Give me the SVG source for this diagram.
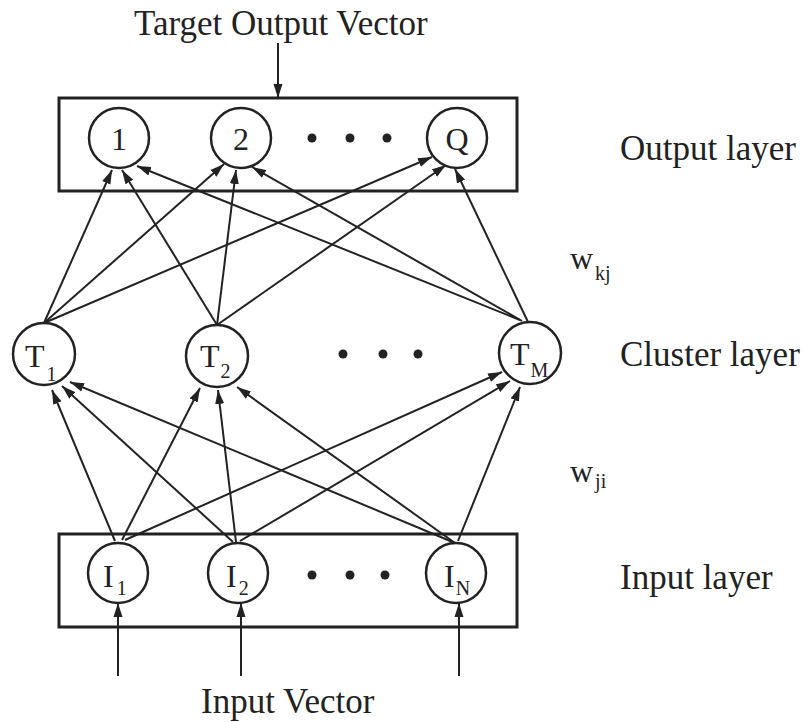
<svg xmlns="http://www.w3.org/2000/svg" width="803" height="722" viewBox="0 0 803 722">
<style>
.box{fill:none;stroke:#222;stroke-width:3}
.node{fill:#fff;stroke:#222;stroke-width:2.5}
.lbl{font-family:"Liberation Serif","Times New Roman",serif;fill:#222;font-size:35px}
.nl{font-family:"Liberation Serif","Times New Roman",serif;fill:#222;font-size:32px}
.sub{font-size:20px}
.edge{stroke:#222;stroke-width:2;fill:none;marker-end:url(#ah)}
.dot{fill:#222}
</style>
<defs>
<marker id="ah" markerUnits="userSpaceOnUse" markerWidth="15" markerHeight="10" refX="14" refY="5" orient="auto">
<path d="M0,0.5 L14,5 L0,9.5 z" fill="#222"/>
</marker>
</defs>
<rect width="803" height="722" fill="#fff"/>

<g id="output-layer">
<rect class="box" x="59" y="98" width="458" height="93"/>
</g>
<g id="input-layer">
<rect class="box" x="59" y="534" width="458" height="93"/>
</g>

<g id="connectors">
<line class="edge" x1="44" y1="323" x2="112" y2="170"/>
<line class="edge" x1="44" y1="323" x2="224" y2="164"/>
<line class="edge" x1="44" y1="323" x2="432" y2="157"/>
<line class="edge" x1="217" y1="325" x2="122" y2="170"/>
<line class="edge" x1="217" y1="325" x2="236" y2="170"/>
<line class="edge" x1="217" y1="325" x2="446" y2="165"/>
<line class="edge" x1="520" y1="320" x2="137" y2="166"/>
<line class="edge" x1="522" y1="321" x2="252" y2="167"/>
<line class="edge" x1="528" y1="322" x2="455" y2="169"/>
<line class="edge" x1="115" y1="541" x2="52" y2="390"/>
<line class="edge" x1="233" y1="542" x2="62" y2="386"/>
<line class="edge" x1="455" y1="543" x2="70" y2="382"/>
<line class="edge" x1="122" y1="540" x2="200" y2="388"/>
<line class="edge" x1="236" y1="542" x2="218" y2="390"/>
<line class="edge" x1="455" y1="543" x2="237" y2="387"/>
<line class="edge" x1="125" y1="540" x2="502" y2="372"/>
<line class="edge" x1="240" y1="541" x2="510" y2="381"/>
<line class="edge" x1="458" y1="541" x2="520" y2="387"/>
<line class="edge" x1="278" y1="43" x2="278" y2="98"/>
<line class="edge" x1="118" y1="676" x2="118" y2="603"/>
<line class="edge" x1="241" y1="676" x2="241" y2="603"/>
<line class="edge" x1="459" y1="676" x2="459" y2="603"/>
</g>

<g id="out1"><circle class="node" cx="119" cy="138" r="30"/><text class="nl" x="119" y="150" text-anchor="middle">1</text></g>
<g id="out2"><circle class="node" cx="241" cy="138" r="30"/><text class="nl" x="241" y="150" text-anchor="middle">2</text></g>
<g id="outQ"><circle class="node" cx="457" cy="138" r="30"/><text class="nl" x="457" y="150" text-anchor="middle">Q</text></g>
<g id="out-dots"><circle class="dot" cx="312" cy="138" r="4.5"/><circle class="dot" cx="350" cy="138" r="4.5"/><circle class="dot" cx="387" cy="138" r="4.5"/></g>

<g id="t1"><circle class="node" cx="44" cy="354" r="31"/><text class="nl" x="25" y="367">T<tspan class="sub" dx="2" dy="14">1</tspan></text></g>
<g id="t2"><circle class="node" cx="217" cy="356" r="31"/><text class="nl" x="200" y="367">T<tspan class="sub" dx="1" dy="11">2</tspan></text></g>
<g id="tM"><circle class="node" cx="530" cy="353" r="31"/><text class="nl" x="510" y="365">T<tspan class="sub" dx="1" dy="12">M</tspan></text></g>
<g id="cluster-dots"><circle class="dot" cx="343" cy="354" r="4.5"/><circle class="dot" cx="383" cy="354" r="4.5"/><circle class="dot" cx="418" cy="354" r="4.5"/></g>

<g id="in1"><circle class="node" cx="118" cy="573" r="30"/><text class="nl" x="103" y="587">I<tspan class="sub" dx="3" dy="8">1</tspan></text></g>
<g id="in2"><circle class="node" cx="238" cy="573" r="30"/><text class="nl" x="226" y="587">I<tspan class="sub" dx="2" dy="8">2</tspan></text></g>
<g id="inN"><circle class="node" cx="456" cy="573" r="30"/><text class="nl" x="444" y="587">I<tspan class="sub" dx="1" dy="8">N</tspan></text></g>
<g id="in-dots"><circle class="dot" cx="312" cy="575" r="4.5"/><circle class="dot" cx="350" cy="575" r="4.5"/><circle class="dot" cx="385" cy="575" r="4.5"/></g>

<g id="labels">
<text class="lbl" x="134" y="35">Target Output Vector</text>
<text class="lbl" x="201" y="713">Input Vector</text>
<text class="lbl" x="620" y="160">Output layer</text>
<text class="lbl" x="620" y="366">Cluster layer</text>
<text class="lbl" x="620" y="589">Input layer</text>
<text class="nl" x="570" y="269">w<tspan class="sub" dx="2" dy="11">kj</tspan></text>
<text class="nl" x="570" y="482">w<tspan class="sub" dx="2" dy="6">ji</tspan></text>
</g>
</svg>
